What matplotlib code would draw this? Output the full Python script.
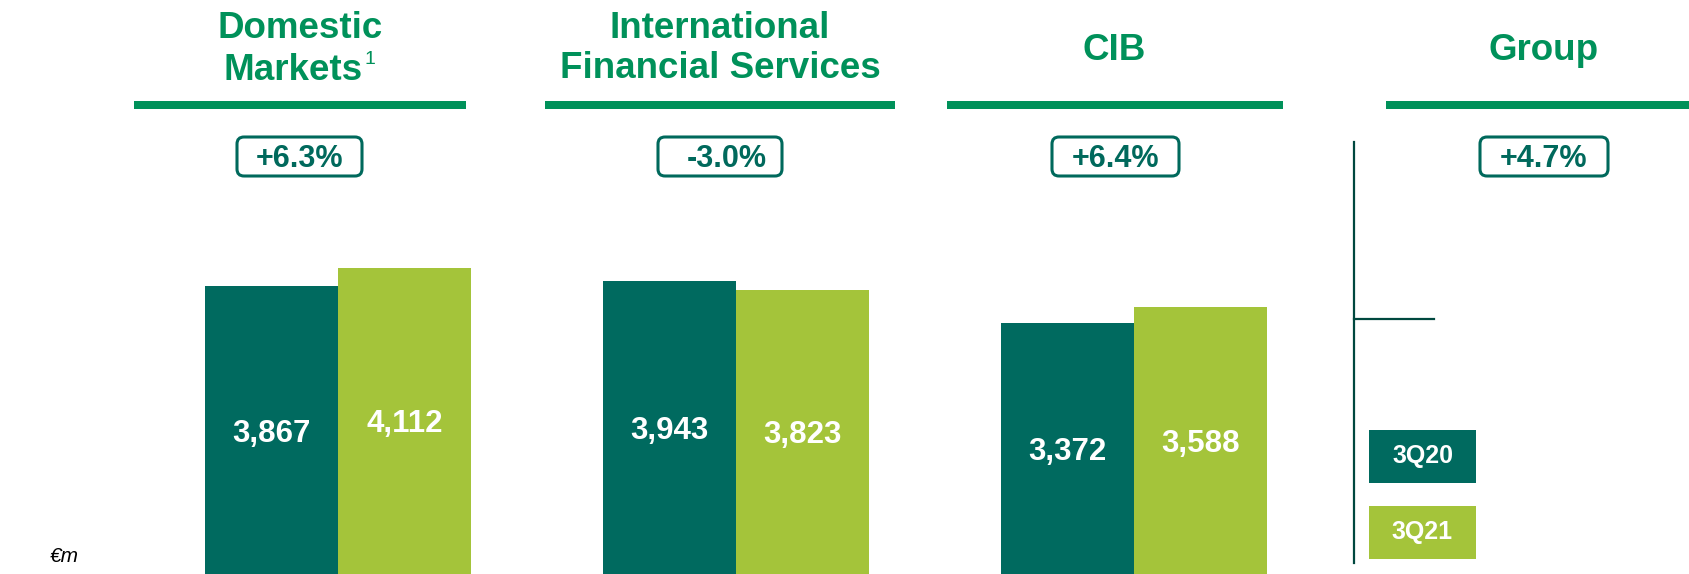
import matplotlib
matplotlib.use("Agg")
import matplotlib.pyplot as plt
from matplotlib.patches import FancyBboxPatch, Rectangle

plt.rcParams["font.family"] = ["Liberation Sans", "DejaVu Sans"]

# data
segments = ["Domestic\nMarkets", "International\nFinancial Services", "CIB", "Group"]
changes = ["+6.3%", "-3.0%", "+6.4%", "+4.7%"]
q20 = [3867, 3943, 3372]
q21 = [4112, 3823, 3588]
labels_q20 = ["3,867", "3,943", "3,372"]
labels_q21 = ["4,112", "3,823", "3,588"]
series = ["3Q20", "3Q21"]

DARK = "#006A5F"
LIME = "#A4C43A"
HEAD = "#00915A"
BOXC = "#00695C"

W, H = 1690, 574
fig = plt.figure(figsize=(W / 100, H / 100), dpi=100)

# bars: group centres are 398 px apart, first at x=338
ax = fig.add_axes([0, 0, 1, 1])
ax.set_xlim(-338 / 398, (W - 338) / 398)
ax.set_ylim(0, 575 / 0.07448)
ax.axis("off")
bw = 133 / 398
xs = range(len(q20))
ax.bar([x - bw / 2 for x in xs], q20, width=bw, color=DARK, linewidth=0)
ax.bar([x + bw / 2 for x in xs], q21, width=bw, color=LIME, linewidth=0)
for x, v, t in zip(xs, q20, labels_q20):
    ax.text(x - bw / 2, v / 2 - 45, t, ha="center", va="center", color="white",
            fontsize=22.5, fontweight="bold")
for x, v, t in zip(xs, q21, labels_q21):
    ax.text(x + bw / 2, v / 2 - 45, t, ha="center", va="center", color="white",
            fontsize=22.5, fontweight="bold")

# overlay in pixel coords
ov = fig.add_axes([0, 0, 1, 1])
ov.set_xlim(0, W)
ov.set_ylim(H, 0)
ov.axis("off")
ov.patch.set_alpha(0)

# headers
head_x = [300, 720, 1114, 1544]
line_x = [(134, 466), (545, 895), (947, 1283), (1386, 1690)]
box_x = [(235, 364), (656, 784), (1050, 1181), (1478, 1610)]
for i, name in enumerate(segments):
    parts = name.split("\n")
    if i == 0:
        ov.text(head_x[i], 28, parts[0], ha="center", va="center", color=HEAD,
                fontsize=26.5, fontweight="bold")
        ov.text(293, 70, parts[1], ha="center", va="center", color=HEAD,
                fontsize=26.5, fontweight="bold")
        ov.text(365, 60, "1", ha="left", va="center", color=HEAD, fontsize=14)
    elif len(parts) == 2:
        ov.text(head_x[i], 28, parts[0], ha="center", va="center", color=HEAD,
                fontsize=26.5, fontweight="bold")
        ov.text(head_x[i], 69, parts[1], ha="center", va="center", color=HEAD,
                fontsize=26.5, fontweight="bold")
    else:
        ov.text(head_x[i], 51, name, ha="center", va="center", color=HEAD,
                fontsize=26.5, fontweight="bold")
    x0, x1 = line_x[i]
    ov.add_patch(Rectangle((x0, 101), x1 - x0, 8, color=HEAD, lw=0))
    b0, b1 = box_x[i]
    ov.add_patch(FancyBboxPatch((b0 + 2, 137), b1 - b0 - 4, 39,
                                boxstyle="round,pad=0,rounding_size=7",
                                fc="white", ec=BOXC, lw=2.2))
    tx = (b0 + b1) / 2 + (7 if changes[i].startswith("-") else 0)
    ov.text(tx, 159, changes[i], ha="center", va="center", color=BOXC,
            fontsize=22, fontweight="bold")

# separator and legend
ov.plot([1354, 1354], [142, 563], color="#00483F", lw=1.6)
ov.plot([1354, 1434], [319, 319], color="#00483F", lw=1.6)
for (y0, c), s in zip([(430, DARK), (506, LIME)], series):
    ov.add_patch(Rectangle((1369, y0), 107, 53, color=c, lw=0))
    ov.text(1422.5, y0 + 26, s, ha="center", va="center", color="white",
            fontsize=18, fontweight="bold")

ov.text(64, 556, "€m", ha="center", va="center", fontsize=15, style="italic",
        color="black")

fig.savefig("out.png", dpi=100, facecolor="white")
